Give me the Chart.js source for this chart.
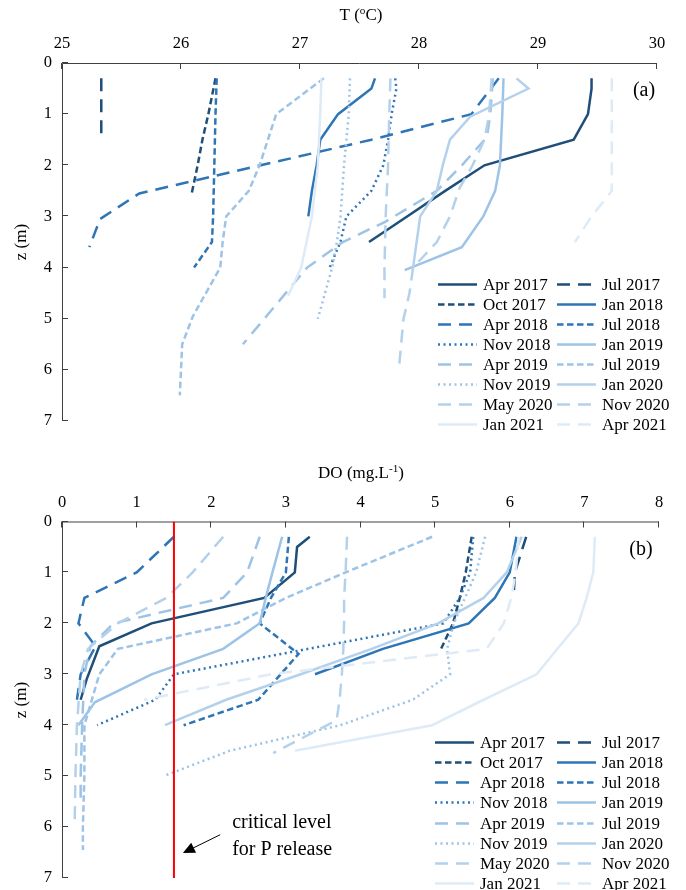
<!DOCTYPE html>
<html>
<head>
<meta charset="utf-8">
<script src="https://cdn.jsdelivr.net/npm/chart.js@4.4.1/dist/chart.umd.min.js"></script>
<style>
  html, body { margin: 0; padding: 0; background: #fff; }
  #wrap { position: relative; width: 686px; height: 890px; }
  canvas { position: absolute; left: 0; }
  #tempChart { top: 0; }
  #doChart { top: 445px; }
</style>
</head>
<body>
<div id="wrap">
  <canvas id="tempChart" width="686" height="445"></canvas>
  <canvas id="doChart" width="686" height="445"></canvas>
</div>
<script>
// ======================= DATA =======================

const surveys = [
  'Apr 2017', 'Jul 2017', 'Oct 2017', 'Jan 2018', 'Apr 2018', 'Jul 2018',
  'Nov 2018', 'Jan 2019', 'Apr 2019', 'Jul 2019', 'Nov 2019', 'Jan 2020',
  'May 2020', 'Nov 2020', 'Jan 2021', 'Apr 2021'
];

const tempTicks = [25, 26, 27, 28, 29, 30];
const doTicks = [0, 1, 2, 3, 4, 5, 6, 7, 8];
const depthTicks = [0, 1, 2, 3, 4, 5, 6, 7];

// temperature profiles: [T (oC), z (m)]
const tApr2017 = [[29.45, 0.3], [29.45, 0.5], [29.42, 1], [29.3, 1.5], [28.55, 2], [28.22, 2.5], [27.9, 3], [27.58, 3.5]];
const tJul2017 = [[25.33, 0.3], [25.33, 1], [25.33, 1.5]];
const tOct2017 = [[26.29, 0.3], [26.23, 1], [26.18, 1.5], [26.14, 2], [26.09, 2.55]];
const tJan2018 = [[27.63, 0.3], [27.6, 0.5], [27.32, 1], [27.17, 1.5], [27.14, 2], [27.1, 2.5], [27.07, 3]];
const tApr2018 = [[28.67, 0.3], [28.44, 1], [27.6, 1.5], [26.67, 2], [25.65, 2.55], [25.32, 3.05], [25.23, 3.6]];
const tJul2018 = [[26.3, 0.3], [26.29, 1], [26.28, 2], [26.27, 3], [26.26, 3.5], [26.11, 4]];
const tNov2018 = [[27.8, 0.3], [27.81, 0.5], [27.77, 1], [27.74, 1.5], [27.7, 2], [27.6, 2.5], [27.39, 3], [27.34, 3.5], [27.24, 4.05]];
const tJan2019 = [[28.71, 0.3], [28.7, 1], [28.69, 1.5], [28.68, 2], [28.64, 2.5], [28.54, 3], [28.36, 3.6], [27.88, 4.05]];
const tApr2019 = [[28.62, 0.3], [28.6, 1], [28.57, 1.45], [28.36, 2], [28.15, 2.5], [27.72, 3.1], [27.36, 3.5], [27.06, 4], [26.88, 4.5], [26.7, 5], [26.52, 5.5]];
const tJul2019 = [[27.2, 0.3], [26.8, 1], [26.66, 2], [26.57, 2.5], [26.38, 3], [26.35, 3.5], [26.33, 4], [26.1, 4.95], [26.01, 5.5], [25.99, 6.5]];
const tNov2019 = [[27.42, 0.3], [27.41, 1], [27.39, 1.5], [27.37, 2], [27.34, 3], [27.31, 3.5], [27.27, 4], [27.15, 5]];
const tJan2020 = [[28.82, 0.3], [28.92, 0.5], [28.43, 1.05], [28.26, 1.5], [28.2, 2], [28.15, 2.5], [28.01, 3], [27.95, 4]];
const tMay2020 = [[27.76, 0.3], [27.75, 1], [27.74, 2], [27.72, 3], [27.71, 4], [27.71, 4.6]];
const tNov2020 = [[28.61, 0.3], [28.59, 1], [28.55, 1.5], [28.45, 2], [28.34, 2.45], [28.26, 3], [28.15, 3.5], [27.95, 4], [27.92, 4.5], [27.87, 5], [27.85, 5.5], [27.83, 6]];
const tJan2021 = [[27.18, 0.3], [27.17, 1], [27.15, 2], [27.1, 3], [27.01, 4], [26.9, 4.55]];
const tApr2021 = [[29.62, 0.3], [29.62, 1], [29.62, 1.5], [29.62, 2], [29.62, 2.5], [29.45, 3], [29.31, 3.5]];

// dissolved oxygen profiles: [DO (mg/L), z (m)]
const doApr2017 = [[3.32, 0.3], [3.15, 0.5], [3.12, 1], [2.71, 1.5], [1.2, 2], [0.5, 2.45], [0.33, 3.1], [0.25, 3.5]];
const doJul2017 = [[6.22, 0.3], [6.07, 1], [6.05, 1.5]];
const doOct2017 = [[5.49, 0.3], [5.41, 1], [5.33, 1.5], [5.24, 2], [5.08, 2.5]];
const doJan2018 = [[6.09, 0.3], [6.0, 1], [5.8, 1.5], [5.45, 2], [4.3, 2.5], [3.39, 3]];
const doApr2018 = [[1.5, 0.3], [1.0, 1], [0.3, 1.5], [0.22, 2], [0.45, 2.45], [0.25, 3], [0.2, 3.5]];
const doJul2018 = [[3.04, 0.3], [3.0, 1], [2.8, 1.5], [2.65, 2], [3.17, 2.6], [2.93, 3], [2.63, 3.5], [1.63, 4]];
const doNov2018 = [[5.51, 0.3], [5.47, 1], [5.33, 1.5], [5.11, 2], [3.3, 2.5], [1.5, 3], [1.25, 3.5], [0.47, 4]];
const doJan2019 = [[2.95, 0.3], [2.82, 1], [2.73, 1.5], [2.65, 2], [2.16, 2.5], [1.2, 3], [0.44, 3.55], [0.22, 4]];
const doApr2019 = [[2.65, 0.3], [2.48, 1], [2.16, 1.5], [0.69, 2], [0.38, 2.45], [0.3, 3], [0.27, 4], [0.25, 5], [0.25, 5.5]];
const doJul2019 = [[4.96, 0.3], [3.8, 1], [3.0, 1.5], [2.34, 2], [0.75, 2.5], [0.5, 3], [0.4, 3.5], [0.3, 4], [0.3, 5], [0.28, 6], [0.28, 6.45]];
const doNov2019 = [[5.67, 0.3], [5.55, 1], [5.4, 1.5], [5.25, 2], [5.16, 2.5], [5.2, 3], [4.7, 3.5], [3.73, 4], [2.25, 4.5], [1.36, 5]];
const doJan2020 = [[6.16, 0.3], [5.96, 1], [5.65, 1.5], [5.04, 2], [4.15, 2.5], [3.2, 3], [2.2, 3.5], [1.38, 4]];
const doMay2020 = [[3.82, 0.3], [3.8, 1], [3.78, 1.5], [3.78, 2], [3.77, 2.5], [3.75, 3], [3.72, 3.5], [3.68, 3.9], [2.83, 4.55]];
const doNov2020 = [[2.16, 0.3], [1.75, 1], [1.4, 1.5], [0.75, 2], [0.35, 2.5], [0.25, 3], [0.2, 4], [0.18, 5], [0.17, 5.9]];
const doJan2021 = [[7.14, 0.3], [7.12, 1], [7.03, 1.5], [6.92, 2], [6.64, 2.5], [6.36, 3], [5.65, 3.5], [4.96, 4], [3.12, 4.5]];
const doApr2021 = [[6.12, 0.3], [6.08, 1], [6.02, 1.5], [5.92, 2], [5.69, 2.5], [2.8, 3], [1.1, 3.5]];

// critical DO level for P release
const criticalDO = 1.5;

const tempProfiles = [tApr2017, tJul2017, tOct2017, tJan2018, tApr2018, tJul2018, tNov2018, tJan2019,
  tApr2019, tJul2019, tNov2019, tJan2020, tMay2020, tNov2020, tJan2021, tApr2021];
const doProfiles = [doApr2017, doJul2017, doOct2017, doJan2018, doApr2018, doJul2018, doNov2018, doJan2019,
  doApr2019, doJul2019, doNov2019, doJan2020, doMay2020, doNov2020, doJan2021, doApr2021];

// ======================= STYLES =======================

const navy = '#1f4e79', mid = '#2e75b6', light = '#9dc3e6', paler = '#b4d1ec', palest = '#deebf7';
const SOLID = [], LONG = [13, 8], DASH = [6.5, 3.5], DOT = [2, 3.5];

const seriesStyle = [
  { color: navy, dash: SOLID },   // Apr 2017
  { color: navy, dash: LONG },    // Jul 2017
  { color: navy, dash: DASH },    // Oct 2017
  { color: mid, dash: SOLID },    // Jan 2018
  { color: mid, dash: LONG },     // Apr 2018
  { color: mid, dash: DASH },     // Jul 2018
  { color: mid, dash: DOT },      // Nov 2018
  { color: light, dash: SOLID },  // Jan 2019
  { color: light, dash: LONG },   // Apr 2019
  { color: light, dash: DASH },   // Jul 2019
  { color: light, dash: DOT },    // Nov 2019
  { color: paler, dash: SOLID },  // Jan 2020
  { color: paler, dash: LONG },   // May 2020
  { color: paler, dash: LONG },   // Nov 2020
  { color: palest, dash: SOLID }, // Jan 2021
  { color: palest, dash: LONG }   // Apr 2021
];

const serif = '"Liberation Serif", "Times New Roman", serif';
Chart.defaults.font.family = serif;
Chart.defaults.font.size = 16.5;
Chart.defaults.color = '#000';

// ======================= HELPERS =======================

function makeDatasets(profiles) {
  return profiles.map((pts, i) => ({
    label: surveys[i],
    data: pts.map(p => ({ x: p[0], y: p[1] })),
    borderColor: seriesStyle[i].color,
    borderDash: seriesStyle[i].dash,
    borderWidth: 2.5,
    pointRadius: 0,
    showLine: true,
    fill: false,
    tension: 0,
    order: 20 - i
  }));
}

// text with a raised part, e.g. T (oC)
function drawSupText(ctx, parts, cx, cy, size) {
  const sup = size * 0.66;
  let w = 0;
  parts.forEach(p => {
    ctx.font = (p.sup ? sup : size) + 'px ' + serif;
    w += ctx.measureText(p.text).width;
  });
  let x = cx - w / 2;
  ctx.textAlign = 'left';
  ctx.textBaseline = 'middle';
  parts.forEach(p => {
    ctx.font = (p.sup ? sup : size) + 'px ' + serif;
    ctx.fillText(p.text, x, p.sup ? cy - size * 0.32 : cy);
    x += ctx.measureText(p.text).width;
  });
}

// axes drawn on the top and left edges, ticks pointing inward
const frame = {
  id: 'frame',
  beforeDatasetsDraw(chart) {
    const { ctx, chartArea: a, scales: { x, y } } = chart;
    ctx.save();
    ctx.strokeStyle = '#404040';
    ctx.lineWidth = 1;
    ctx.beginPath();
    ctx.moveTo(a.left + 0.5, a.bottom);
    ctx.lineTo(a.left + 0.5, a.top + 0.5);
    ctx.lineTo(a.right, a.top + 0.5);
    x.ticks.forEach(t => {
      const px = Math.round(x.getPixelForValue(t.value)) - 0.5;
      ctx.moveTo(px, a.top);
      ctx.lineTo(px, a.top + 6);
    });
    y.ticks.forEach(t => {
      const py = Math.round(y.getPixelForValue(t.value)) - 0.5;
      ctx.moveTo(a.left, py);
      ctx.lineTo(a.left + 6, py);
    });
    ctx.stroke();
    ctx.restore();
  },
  afterDraw(chart, args, o) {
    const ctx = chart.ctx;
    ctx.save();
    ctx.fillStyle = '#000';
    drawSupText(ctx, o.title, o.titleX, o.titleY, 17);
    ctx.translate(22, o.zY);
    ctx.rotate(-Math.PI / 2);
    ctx.font = '17px ' + serif;
    ctx.textAlign = 'center';
    ctx.textBaseline = 'middle';
    ctx.fillText('z (m)', 0, 0);
    ctx.restore();
    ctx.save();
    ctx.font = '20px ' + serif;
    ctx.textAlign = 'center';
    ctx.textBaseline = 'middle';
    ctx.fillStyle = '#000';
    ctx.fillText(o.panel, o.panelX, o.panelY);
    ctx.restore();
  }
};

// two-column legend in the lower right corner
const legendBox = {
  id: 'legendBox',
  afterDatasetsDraw(chart, args, o) {
    const ctx = chart.ctx;
    ctx.save();
    ctx.fillStyle = '#fff';
    ctx.fillRect(o.cols[0] - 4, o.y - 11, 686 - o.cols[0] + 4, o.gap * 8 + 4);
    ctx.font = '17px ' + serif;
    ctx.textBaseline = 'middle';
    ctx.textAlign = 'left';
    surveys.forEach((name, i) => {
      const lx = o.cols[i % 2];
      const ly = Math.round(o.y + Math.floor(i / 2) * o.gap) + 0.5;
      ctx.strokeStyle = seriesStyle[i].color;
      ctx.setLineDash(seriesStyle[i].dash);
      ctx.lineWidth = 2.5;
      ctx.beginPath();
      ctx.moveTo(lx, ly);
      ctx.lineTo(lx + 39, ly);
      ctx.stroke();
      ctx.setLineDash([]);
      ctx.fillStyle = '#000';
      ctx.fillText(name, lx + 45, ly + 1);
    });
    ctx.restore();
  }
};

// "critical level for P release" note with arrow
const note = {
  id: 'note',
  afterDraw(chart, args, o) {
    if (!o.show) return;
    const { ctx, scales: { x, y } } = chart;
    ctx.save();
    ctx.fillStyle = '#000';
    ctx.strokeStyle = '#000';
    ctx.font = '20px ' + serif;
    ctx.textAlign = 'left';
    ctx.textBaseline = 'alphabetic';
    ctx.fillText('critical level', x.getPixelForValue(2.28), y.getPixelForValue(6.01));
    ctx.fillText('for P release', x.getPixelForValue(2.28), y.getPixelForValue(6.54));
    const x0 = x.getPixelForValue(2.12), y0 = y.getPixelForValue(6.15);
    const x1 = x.getPixelForValue(1.62), y1 = y.getPixelForValue(6.51);
    const ang = Math.atan2(y1 - y0, x1 - x0);
    ctx.lineWidth = 1;
    ctx.beginPath();
    ctx.moveTo(x0, y0);
    ctx.lineTo(x1 - 8 * Math.cos(ang), y1 - 8 * Math.sin(ang));
    ctx.stroke();
    ctx.beginPath();
    ctx.moveTo(x1, y1);
    ctx.lineTo(x1 - 12 * Math.cos(ang) + 5.5 * Math.sin(ang), y1 - 12 * Math.sin(ang) - 5.5 * Math.cos(ang));
    ctx.lineTo(x1 - 12 * Math.cos(ang) - 5.5 * Math.sin(ang), y1 - 12 * Math.sin(ang) + 5.5 * Math.cos(ang));
    ctx.closePath();
    ctx.fill();
    ctx.restore();
  }
};

function profileChart(canvasId, datasets, opts) {
  const ctx = document.getElementById(canvasId);
  if (!ctx) {
    console.warn(`Canvas element ${canvasId} not found`);
    return null;
  }

  return new Chart(ctx, {
    type: 'scatter',
    data: { datasets: datasets },
    options: {
      responsive: false,
      animation: false,
      events: [],
      layout: { padding: { left: 0, top: 0, right: opts.padRight, bottom: opts.padBottom } },
      plugins: {
        legend: { display: false },
        tooltip: { enabled: false },
        frame: opts.frame,
        legendBox: opts.legend,
        note: { show: !!opts.note }
      },
      scales: {
        x: {
          type: 'linear',
          position: 'top',
          min: opts.xTicks[0],
          max: opts.xTicks[opts.xTicks.length - 1],
          afterBuildTicks: s => { s.ticks = opts.xTicks.map(v => ({ value: v })); },
          afterFit: s => {
            s.height = opts.top;
            s.paddingLeft = 0; s.paddingRight = 0;
          },
          grid: { display: false, drawTicks: false },
          border: { display: false },
          ticks: { padding: 9, color: '#000' }
        },
        y: {
          type: 'linear',
          reverse: true,
          min: 0,
          max: 7,
          afterBuildTicks: s => { s.ticks = depthTicks.map(v => ({ value: v })); },
          afterFit: s => {
            s.width = 62;
            s.paddingTop = 0; s.paddingBottom = 0;
          },
          grid: { display: false, drawTicks: false },
          border: { display: false },
          ticks: { padding: 10, color: '#000' }
        }
      }
    },
    plugins: [frame, legendBox, note]
  });
}

// ======================= CHARTS =======================

profileChart('tempChart', makeDatasets(tempProfiles), {
  xTicks: tempTicks,
  top: 63,
  padRight: 29,
  padBottom: 24,
  frame: {
    title: [{ text: 'T (' }, { text: 'o', sup: true }, { text: 'C)' }],
    titleX: 361, titleY: 16, zY: 242,
    panel: '(a)', panelX: 644, panelY: 91
  },
  legend: { cols: [438, 557], y: 283.5, gap: 20 }
});

const doSets = makeDatasets(doProfiles);
doSets.push({
  label: 'critical level',
  data: [{ x: criticalDO, y: 0 }, { x: criticalDO, y: 7 }],
  borderColor: '#ff0000',
  borderWidth: 2,
  pointRadius: 0,
  showLine: true,
  order: 0
});

profileChart('doChart', doSets, {
  xTicks: doTicks,
  top: 76.5,
  padRight: 27,
  padBottom: 12,
  frame: {
    title: [{ text: 'DO (mg.L' }, { text: '-1', sup: true }, { text: ')' }],
    titleX: 361, titleY: 29, zY: 255,
    panel: '(b)', panelX: 641, panelY: 105
  },
  legend: { cols: [435, 557], y: 296.7, gap: 20.2 },
  note: true
});
</script>
</body>
</html>
